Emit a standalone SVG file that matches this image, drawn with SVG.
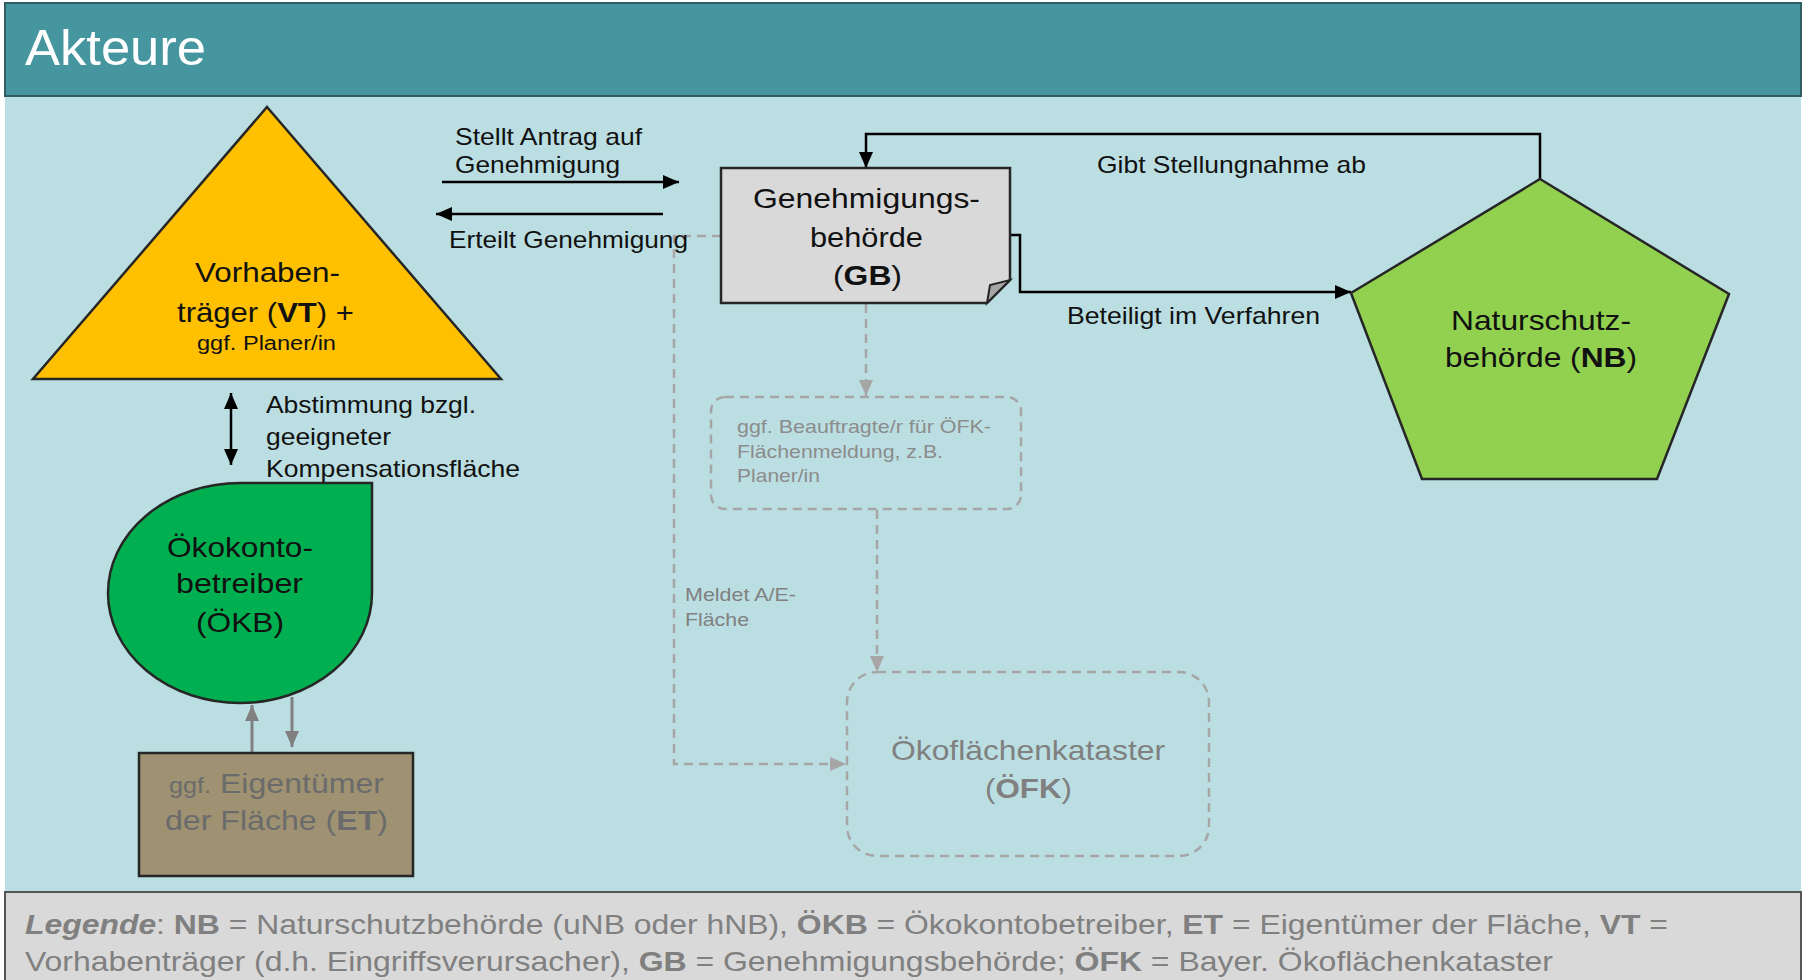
<svg xmlns="http://www.w3.org/2000/svg" width="1804" height="980" viewBox="0 0 1804 980">
<style>
text{font-family:"Liberation Sans",Arial,sans-serif}
.node{stroke:#262626;stroke-width:2.5}
.lbl{font-size:24px;fill:#111}
.nt{font-size:28px;fill:#111}
.gt{fill:#808080}
.con{fill:none;stroke:#000;stroke-width:2.5}
.cong{fill:none;stroke:#808080;stroke-width:3}
.dash{fill:none;stroke:#A6A6A6;stroke-width:2.5;stroke-dasharray:9 6}
</style>
<defs>
<marker id="ah" viewBox="0 0 16 14" refX="16" refY="7" markerWidth="16" markerHeight="14" orient="auto-start-reverse" markerUnits="userSpaceOnUse"><path d="M0 0L16 7L0 14Z" fill="#000"/></marker>
<marker id="ahg" viewBox="0 0 16 14" refX="16" refY="7" markerWidth="16" markerHeight="14" orient="auto" markerUnits="userSpaceOnUse"><path d="M0 0L16 7L0 14Z" fill="#808080"/></marker>
<marker id="ahd" viewBox="0 0 16 14" refX="16" refY="7" markerWidth="16" markerHeight="14" orient="auto" markerUnits="userSpaceOnUse"><path d="M0 0L16 7L0 14Z" fill="#A6A6A6"/></marker>
</defs>
<rect width="1804" height="980" fill="#fff"/>
<rect x="5" y="96" width="1796" height="796" fill="#BBDEE2"/>
<g id="header">
<rect x="5" y="3" width="1796" height="93" fill="#45969E" stroke="#2E5E62" stroke-width="2"/>
<text x="25" y="65" font-size="50" fill="#fff" textLength="181" lengthAdjust="spacingAndGlyphs">Akteure</text>
</g>
<g id="legend">
<rect x="5" y="892" width="1796" height="90" fill="#D9D9D9" stroke="#555" stroke-width="2"/>
<text x="25" y="934" font-size="28" class="gt" textLength="1643" lengthAdjust="spacingAndGlyphs"><tspan font-weight="bold" font-style="italic">Legende</tspan>: <tspan font-weight="bold">NB</tspan> = Naturschutzbehörde (uNB oder hNB), <tspan font-weight="bold">ÖKB</tspan> = Ökokontobetreiber, <tspan font-weight="bold">ET</tspan> = Eigentümer der Fläche, <tspan font-weight="bold">VT</tspan> =</text>
<text x="25" y="971" font-size="28" class="gt" textLength="1528" lengthAdjust="spacingAndGlyphs">Vorhabenträger (d.h. Eingriffsverursacher), <tspan font-weight="bold">GB</tspan> = Genehmigungsbehörde; <tspan font-weight="bold">ÖFK</tspan> = Bayer. Ökoflächenkataster</text>
</g>
<g id="connectors">
<path class="dash" d="M721 236H674V764H846" marker-end="url(#ahd)"/>
<path class="dash" d="M866 304V396" marker-end="url(#ahd)"/>
<path class="dash" d="M877 510V672" marker-end="url(#ahd)"/>
<path class="con" d="M442 182H679" marker-end="url(#ah)"/>
<path class="con" d="M663 214H436" marker-end="url(#ah)"/>
<path class="con" d="M1540 179V134H866V168" marker-end="url(#ah)"/>
<path class="con" d="M1011 235H1020V292H1351" marker-end="url(#ah)"/>
<path class="con" d="M231 393V465" marker-start="url(#ah)" marker-end="url(#ah)"/>
<path class="cong" d="M252 752V705" marker-end="url(#ahg)"/>
<path class="cong" d="M292 697V747" marker-end="url(#ahg)"/>
<text class="lbl" x="455" y="145" textLength="187" lengthAdjust="spacingAndGlyphs">Stellt Antrag auf</text>
<text class="lbl" x="455" y="173" textLength="165" lengthAdjust="spacingAndGlyphs">Genehmigung</text>
<text class="lbl" x="449" y="248" textLength="239" lengthAdjust="spacingAndGlyphs">Erteilt Genehmigung</text>
<text class="lbl" x="1097" y="173" textLength="269" lengthAdjust="spacingAndGlyphs">Gibt Stellungnahme ab</text>
<text class="lbl" x="1067" y="324" textLength="253" lengthAdjust="spacingAndGlyphs">Beteiligt im Verfahren</text>
<text class="lbl" x="266" y="413" textLength="210" lengthAdjust="spacingAndGlyphs">Abstimmung bzgl.</text>
<text class="lbl" x="266" y="445" textLength="125" lengthAdjust="spacingAndGlyphs">geeigneter</text>
<text class="lbl" x="266" y="477" textLength="254" lengthAdjust="spacingAndGlyphs">Kompensationsfläche</text>
<text x="685" y="601" font-size="19" class="gt" textLength="111" lengthAdjust="spacingAndGlyphs">Meldet A/E-</text>
<text x="685" y="626" font-size="19" class="gt" textLength="64" lengthAdjust="spacingAndGlyphs">Fläche</text>
</g>
<g id="VT">
<path class="node" d="M267 107L501 379H33Z" fill="#FFC000"/>
<text class="nt" x="195" y="282" textLength="145" lengthAdjust="spacingAndGlyphs">Vorhaben-</text>
<text class="nt" x="177" y="322" textLength="177" lengthAdjust="spacingAndGlyphs">träger (<tspan font-weight="bold">VT</tspan>) +</text>
<text x="197" y="350" font-size="20" fill="#111" textLength="139" lengthAdjust="spacingAndGlyphs">ggf. Planer/in</text>
</g>
<g id="GB">
<path class="node" d="M721 168H1010V280L987 303H721Z" fill="#D9D9D9"/>
<path d="M987 303L990 285L1010 280Z" fill="#A6A6A6" stroke="#262626" stroke-width="2"/>
<text class="nt" x="753" y="208" textLength="227" lengthAdjust="spacingAndGlyphs">Genehmigungs-</text>
<text class="nt" x="810" y="247" textLength="113" lengthAdjust="spacingAndGlyphs">behörde</text>
<text class="nt" x="833" y="285" textLength="69" lengthAdjust="spacingAndGlyphs">(<tspan font-weight="bold">GB</tspan>)</text>
</g>
<g id="NB">
<path class="node" d="M1540 179L1729 294L1657 479H1422L1351 293Z" fill="#92D050"/>
<text class="nt" x="1451" y="330" textLength="180" lengthAdjust="spacingAndGlyphs">Naturschutz-</text>
<text class="nt" x="1445" y="367" textLength="192" lengthAdjust="spacingAndGlyphs">behörde (<tspan font-weight="bold">NB</tspan>)</text>
</g>
<g id="OEKB">
<path class="node" d="M240 483H372V593A132 110 0 1 1 240 483Z" fill="#00B050"/>
<text class="nt" x="167" y="557" textLength="146" lengthAdjust="spacingAndGlyphs">Ökokonto-</text>
<text class="nt" x="176" y="593" textLength="127" lengthAdjust="spacingAndGlyphs">betreiber</text>
<text class="nt" x="196" y="632" textLength="88" lengthAdjust="spacingAndGlyphs">(ÖKB)</text>
</g>
<g id="ET">
<rect class="node" x="139" y="753" width="274" height="123" fill="#9E9272"/>
<text x="169" y="793" font-size="28" fill="#6B6B6B" textLength="215" lengthAdjust="spacingAndGlyphs"><tspan font-size="22">ggf.</tspan> Eigentümer</text>
<text x="165" y="830" font-size="28" fill="#6B6B6B" textLength="223" lengthAdjust="spacingAndGlyphs">der Fläche (<tspan font-weight="bold">ET</tspan>)</text>
</g>
<g id="Beauftragte">
<rect class="dash" x="711" y="397" width="310" height="112" rx="14"/>
<text x="737" y="433" font-size="19" fill="#8C8C8C" textLength="254" lengthAdjust="spacingAndGlyphs">ggf. Beauftragte/r für ÖFK-</text>
<text x="737" y="458" font-size="19" fill="#8C8C8C" textLength="206" lengthAdjust="spacingAndGlyphs">Flächenmeldung, z.B.</text>
<text x="737" y="482" font-size="19" fill="#8C8C8C" textLength="83" lengthAdjust="spacingAndGlyphs">Planer/in</text>
</g>
<g id="OEFK">
<rect class="dash" x="847" y="672" width="362" height="184" rx="30"/>
<text x="891" y="760" font-size="28" class="gt" textLength="274" lengthAdjust="spacingAndGlyphs">Ökoflächenkataster</text>
<text x="985" y="798" font-size="28" class="gt" textLength="87" lengthAdjust="spacingAndGlyphs">(<tspan font-weight="bold">ÖFK</tspan>)</text>
</g>
</svg>
